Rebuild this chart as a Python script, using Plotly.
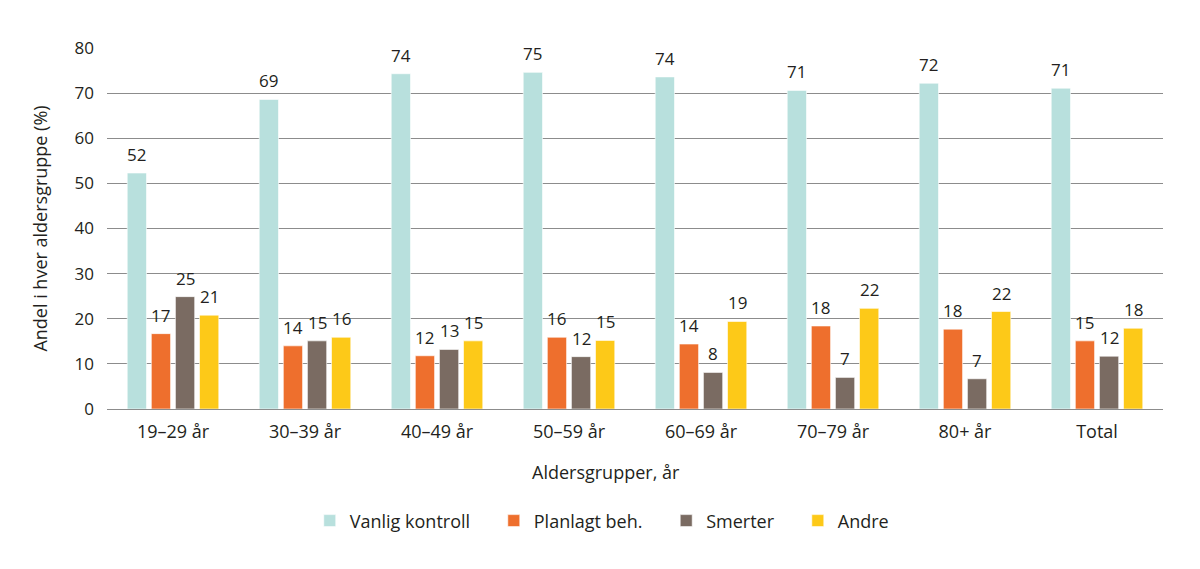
import plotly.graph_objects as go

# Data
age_groups = ["19–29 år", "30–39 år", "40–49 år", "50–59 år",
              "60–69 år", "70–79 år", "80+ år", "Total"]
vanlig_kontroll = [52.3, 68.6, 74.3, 74.6, 73.6, 70.6, 72.2, 71.1]
planlagt_beh = [16.7, 14.0, 11.8, 15.9, 14.4, 18.4, 17.7, 15.1]
smerter = [24.9, 15.1, 13.2, 11.6, 8.1, 7.0, 6.7, 11.7]
andre = [20.8, 15.9, 15.1, 15.2, 19.4, 22.3, 21.6, 17.9]

series_names = ["Vanlig kontroll", "Planlagt beh.", "Smerter", "Andre"]
series_colors = ["#B8E0DD", "#EE6F2D", "#7A6B62", "#FDC918"]
series_values = [vanlig_kontroll, planlagt_beh, smerter, andre]

text_color = "#231F20"
font_family = "Open Sans, Noto Sans, sans-serif"

W, H = 1200, 569
margin = dict(l=99, r=45, t=40, b=168)   # page body adds 8px offset
bargap = 0.27
legend_pad = "\u00a0" * 4   # extra room between legend entries

fig = go.Figure()
for name, color, vals in zip(series_names, series_colors, series_values):
    fig.add_trace(go.Bar(
        name=name + legend_pad,
        x=age_groups,
        y=vals,
        marker=dict(color=color, line=dict(color="white", width=0.6)),
    ))

# value labels a bit higher above the bars than plotly's own outside text
plot_w = W - margin["l"] - margin["r"]
slot = plot_w / len(age_groups) * (1 - bargap) / len(series_names)
annotations = []
for i, vals in enumerate(series_values):
    for cat, v in zip(age_groups, vals):
        annotations.append(dict(
            x=cat, y=v, xref="x", yref="y",
            text=f"{round(v):d}", showarrow=False,
            xanchor="center", yanchor="bottom",
            xshift=(i - (len(series_names) - 1) / 2) * slot,
            yshift=5,
            font=dict(size=17, color=text_color),
        ))

# x axis title sits left of the plot centre in the original
annotations.append(dict(
    x=0.4725, y=-0.175, xref="paper", yref="paper",
    text="Aldersgrupper, år", showarrow=False,
    xanchor="center", yanchor="middle",
    font=dict(size=18, color=text_color),
))

fig.update_layout(
    width=W,
    height=H,
    barmode="group",
    bargap=bargap,
    bargroupgap=0.2,
    plot_bgcolor="white",
    paper_bgcolor="white",
    font=dict(family=font_family, size=16, color=text_color),
    margin=margin,
    annotations=annotations,
    xaxis=dict(
        showgrid=False,
        showline=False,
        ticks="",
        ticklabelstandoff=10,
        tickfont=dict(size=18),
    ),
    yaxis=dict(
        title=dict(text="Andel i hver aldersgruppe (%)", standoff=22,
                   font=dict(size=18)),
        range=[0, 80],
        dtick=10,
        showgrid=True,
        gridcolor="#8C8C8C",
        gridwidth=1,
        zeroline=True,
        zerolinecolor="#8C8C8C",
        zerolinewidth=1,
        showline=False,
        ticks="",
        ticklabelstandoff=12,
        tickfont=dict(size=17),
    ),
    legend=dict(
        orientation="h",
        x=0.192,
        xanchor="left",
        y=-0.31,
        yanchor="middle",
        font=dict(size=18),
        traceorder="normal",
    ),
)

fig.write_html("out.html")
